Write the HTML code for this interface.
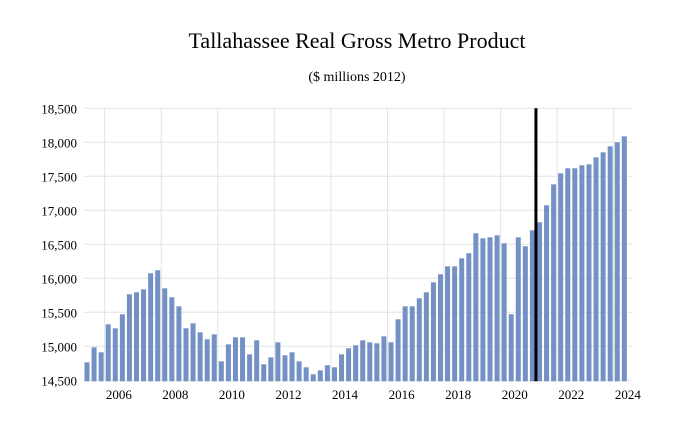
<!DOCTYPE html>
<html><head><meta charset="utf-8"><style>
body{margin:0;background:#fff;}
svg text{font-family:"Liberation Serif",serif;fill:#000;}
</style></head><body>
<svg width="674" height="428" xmlns="http://www.w3.org/2000/svg">
<text x="357" y="48" text-anchor="middle" font-size="22">Tallahassee Real Gross Metro Product</text>
<text x="357" y="81" text-anchor="middle" font-size="14">($ millions 2012)</text>
<g id="grid"></g><g id="bars"></g><g id="labels"></g>
</svg>
<script>
const yTicks=[14500,15000,15500,16000,16500,17000,17500,18000,18500];
const yTickLabels=["14,500","15,000","15,500","16,000","16,500","17,000","17,500","18,000","18,500"];
const xTickLabels=["2006","2008","2010","2012","2014","2016","2018","2020","2022","2024"];
const startYear=2005;
const values=[14765,14985,14912,15323,15265,15471,15765,15794,15838,16074,16118,15853,15721,15588,15265,15338,15206,15103,15176,14779,15029,15132,15132,14882,15088,14735,14838,15059,14868,14912,14779,14691,14588,14647,14721,14691,14882,14971,15015,15088,15059,15044,15147,15059,15397,15588,15588,15706,15794,15941,16059,16176,16176,16294,16368,16662,16588,16603,16632,16515,15471,16603,16471,16706,16824,17074,17382,17544,17618,17618,17662,17676,17779,17853,17941,18000,18088];
const forecastStartIndex=64;
const NS="http://www.w3.org/2000/svg";
const yMin=14500,yMax=18500,yTop=108.3,yBot=380.3,x0=87,step=7.07;
const yS=v=>yBot-(v-yMin)/(yMax-yMin)*(yBot-yTop);
const xS=i=>x0+i*step;
function mk(t,a,p){const e=document.createElementNS(NS,t);for(const k in a)e.setAttribute(k,a[k]);p.appendChild(e);return e;}
const grid=document.getElementById('grid'),bars=document.getElementById('bars'),labels=document.getElementById('labels');
yTicks.forEach((v,i)=>{
 const l=mk('line',{x1:84,x2:632,y1:yS(v),y2:yS(v),stroke:'#e3e3e3','stroke-width':1},grid);
 
 
 const t=mk('text',{x:77,y:yS(v)+5,'text-anchor':'end','font-size':13},labels);
 t.textContent=yTickLabels[i];
 
 
});
xTickLabels.forEach((s,k)=>{
 const yr=parseInt(s);
 const gi=(yr-startYear)*4-1.5;
 const l=mk('line',{x1:xS(gi),x2:xS(gi),y1:yTop,y2:yBot,stroke:'#e3e3e3','stroke-width':1},grid);
 
 
 const t=mk('text',{x:xS((yr-startYear)*4+0.5),y:399,'text-anchor':'middle','font-size':13},labels);
 t.textContent=s;
 
 
});
values.forEach((v,i)=>{
 const r=mk('rect',{x:xS(i)-2.5,y:yS(v),width:5,height:yBot+1-yS(v),fill:'#7391c4'},bars);
 
 
});
const fx=(xS(forecastStartIndex-1)+xS(forecastStartIndex))/2;
const fl=mk('line',{x1:fx,x2:fx,y1:yTop,y2:yBot+1,stroke:'#000','stroke-width':3},labels);


</script>
</body></html>
